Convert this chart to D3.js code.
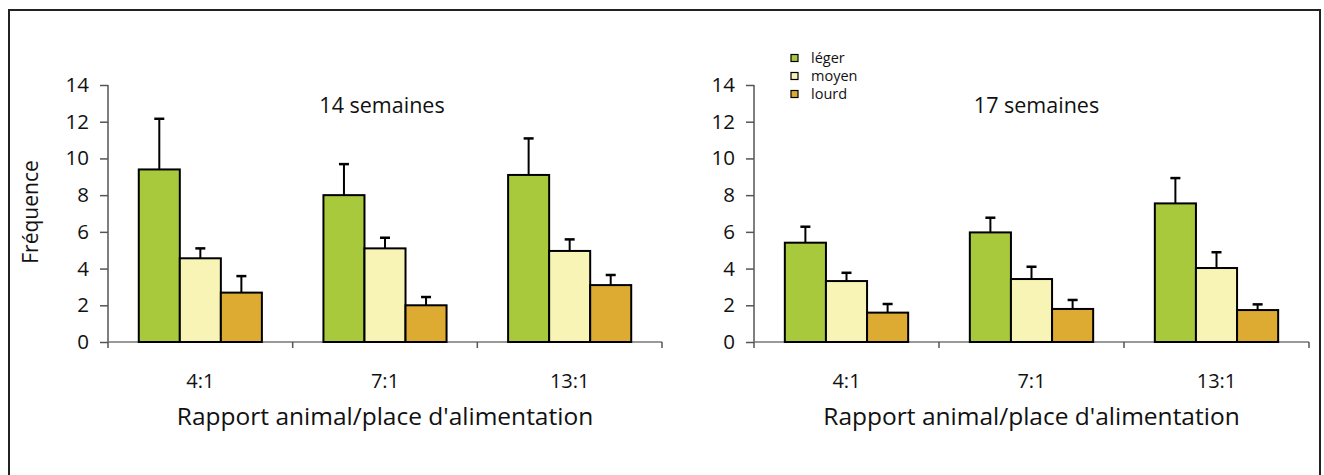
<!DOCTYPE html>
<html><head><meta charset="utf-8">
<script src="https://cdn.jsdelivr.net/npm/d3@7"></script>
<style>body{margin:0;background:#fff;} text{font-family:"Open Sans",sans-serif;fill:#111;}</style>
</head><body>
<svg id="chart" width="1324" height="475"></svg>
<script>
const categories = ["4:1", "7:1", "13:1"];
const seriesNames = ["léger", "moyen", "lourd"];
const yTicks = [0, 2, 4, 6, 8, 10, 12, 14];
// 14 semaines
const w14Leger = [9.4, 8.0, 9.1];
const w14Moyen = [4.56, 5.1, 4.96];
const w14Lourd = [2.69, 2.0, 3.1];
const w14LegerErr = [2.76, 1.69, 1.99];
const w14MoyenErr = [0.54, 0.58, 0.63];
const w14LourdErr = [0.9, 0.45, 0.55];
// 17 semaines
const w17Leger = [5.41, 5.97, 7.55];
const w17Moyen = [3.32, 3.43, 4.03];
const w17Lourd = [1.6, 1.8, 1.74];
const w17LegerErr = [0.87, 0.8, 1.38];
const w17MoyenErr = [0.45, 0.67, 0.86];
const w17LourdErr = [0.47, 0.49, 0.31];

const colors = ["#a9c93d", "#f8f4b6", "#ddab32"];

const svg = d3.select("#chart");
// frame
svg.append("path").attr("d", "M9,480 V10 H1320 V480")
  .attr("fill", "none").attr("stroke", "#222").attr("stroke-width", 2);

const yTop = 85, yBot = 342;

function panel(x0, x1, title, titleShift, vals, errs) {
  const g = svg.append("g");
  const x = d3.scaleBand().domain(categories).range([x0, x1]).paddingInner(0).paddingOuter(0);
  const xs = d3.scaleBand().domain(seriesNames).range([0, x.bandwidth()]).paddingInner(0).paddingOuter(0.75);
  const y = d3.scaleLinear().domain([0, 14]).range([yBot, yTop]);

  // y axis
  const ya = g.append("g").attr("transform", `translate(${x0},0)`)
    .call(d3.axisLeft(y).tickValues(yTicks).tickSize(8).tickPadding(11).tickFormat(d3.format("d")));
  ya.select(".domain").attr("stroke", "#555").attr("stroke-width", 1.5).attr("d", `M0,${yTop}V${yBot}`);
  ya.selectAll(".tick line").attr("stroke", "#555").attr("stroke-width", 1.5);
  ya.selectAll(".tick text").attr("font-size", 20.5).attr("font-family", "Open Sans").attr("fill", "#111");

  // x axis
  const xa = g.append("g").attr("transform", `translate(0,${yBot})`);
  xa.append("line").attr("x1", x0).attr("x2", x1).attr("y1", 0).attr("y2", 0)
    .attr("stroke", "#777").attr("stroke-width", 1.5);
  const bounds = categories.map(c => x(c)).concat([x1]);
  xa.selectAll("line.b").data(bounds).enter().append("line").attr("class", "b")
    .attr("x1", d => d).attr("x2", d => d).attr("y1", 0).attr("y2", 6)
    .attr("stroke", "#555").attr("stroke-width", 1.5);
  xa.selectAll("text.cat").data(categories).enter().append("text").attr("class", "cat")
    .attr("x", d => x(d) + x.bandwidth() / 2).attr("y", 46)
    .attr("text-anchor", "middle").attr("font-size", 20).text(d => d);

  // bars
  const rows = [];
  categories.forEach((c, i) => seriesNames.forEach((s, j) => rows.push({c, s, j, v: vals[j][i], e: errs[j][i]})));
  const bg = g.append("g");
  rows.forEach(r => {
    const cx = x(r.c) + xs(r.s) + xs.bandwidth() / 2;
    bg.append("line").attr("x1", cx).attr("x2", cx).attr("y1", y(r.v)).attr("y2", y(r.v + r.e))
      .attr("stroke", "#000").attr("stroke-width", 2);
    bg.append("line").attr("x1", cx - 5).attr("x2", cx + 5).attr("y1", y(r.v + r.e)).attr("y2", y(r.v + r.e))
      .attr("stroke", "#000").attr("stroke-width", 2.5);
  });
  bg.selectAll("rect").data(rows).enter().append("rect")
    .attr("x", d => x(d.c) + xs(d.s)).attr("width", xs.bandwidth())
    .attr("y", d => y(d.v)).attr("height", d => y(0) - y(d.v))
    .attr("fill", d => colors[d.j]).attr("stroke", "#000").attr("stroke-width", 2);

  g.append("text").attr("x", (x0 + x1) / 2 + titleShift).attr("y", 113).attr("text-anchor", "middle")
    .attr("font-size", 21.5).text(title);
  g.append("text").attr("x", (x0 + x1) / 2).attr("y", 425).attr("text-anchor", "middle")
    .attr("font-size", 24.5).text("Rapport animal/place d'alimentation");
}

panel(108, 662, "14 semaines", -3, [w14Leger, w14Moyen, w14Lourd], [w14LegerErr, w14MoyenErr, w14LourdErr]);
panel(754, 1309, "17 semaines", 5, [w17Leger, w17Moyen, w17Lourd], [w17LegerErr, w17MoyenErr, w17LourdErr]);

// y title
svg.append("text").attr("transform", "translate(38,212) rotate(-90)").attr("text-anchor", "middle")
  .attr("font-size", 21).text("Fréquence");

// legend
const lg = svg.append("g");
seriesNames.forEach((s, i) => {
  const yy = 54.5 + i * 18;
  lg.append("rect").attr("x", 791).attr("y", yy).attr("width", 7).attr("height", 7)
    .attr("fill", colors[i]).attr("stroke", "#000").attr("stroke-width", 1.2);
  lg.append("text").attr("x", 811).attr("y", yy + 3.5).attr("dy", "0.35em")
    .attr("font-size", 14.5).text(s);
});
</script>
</body></html>
